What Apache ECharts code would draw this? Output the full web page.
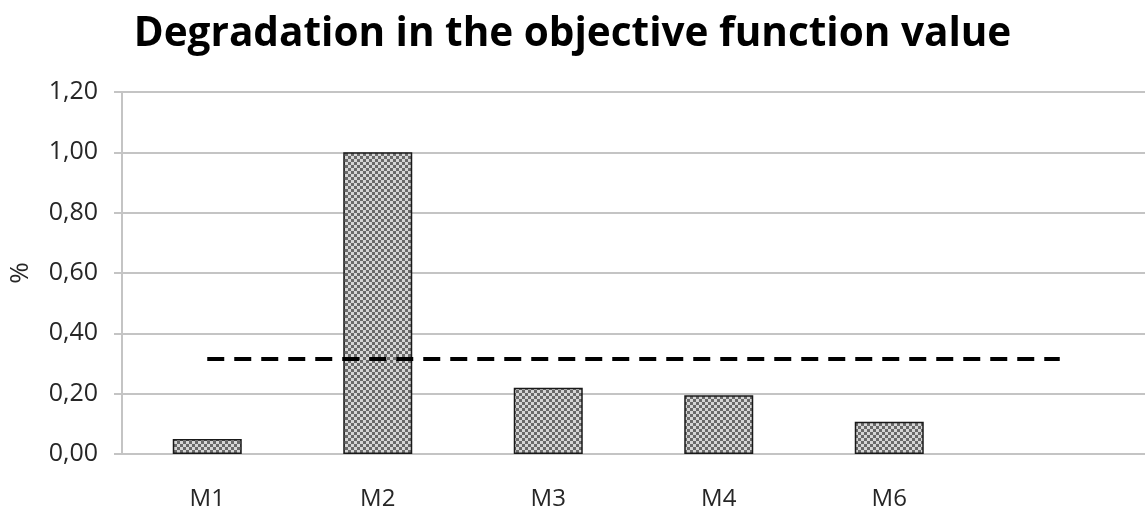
<!DOCTYPE html>
<html>
<head>
<meta charset="utf-8">
<script src="https://cdn.jsdelivr.net/npm/echarts@6/dist/echarts.min.js"></script>
<style>
  html, body { margin: 0; padding: 0; background: #fff; }
  #chart { width: 1145px; height: 513px; }
</style>
</head>
<body>
<div id="chart"></div>
<script>
// Categories (the last slot is left unlabeled so the reference line runs past M6)
const categories = ['M1', 'M2', 'M3', 'M4', 'M6', ''];
// Degradation per method, in %
const degradation = [0.05, 1.00, 0.22, 0.195, 0.107, null];
// Average degradation reference line, in %
const averageLine = [0.315, 0.315, 0.315, 0.315, 0.315, 0.315];
// Y axis ticks
const yTicks = { min: 0, max: 1.2, interval: 0.2 };

// Checkered fill for the bars
function checkerPattern() {
  const c = document.createElement('canvas');
  c.width = 6; c.height = 6;
  const ctx = c.getContext('2d');
  ctx.fillStyle = '#d6d6d6';
  ctx.fillRect(0, 0, 6, 6);
  ctx.fillStyle = '#6a6a6a';
  ctx.fillRect(0, 0, 3, 3);
  ctx.fillRect(3, 3, 3, 3);
  return c;
}

const chart = echarts.init(document.getElementById('chart'), null, { renderer: 'canvas' });

const labelColor = '#262626';

const option = {
  backgroundColor: '#ffffff',
  animation: false,
  title: {
    text: 'Degradation in the objective function value',
    left: 'center',
    top: 9,
    textStyle: {
      fontFamily: 'Open Sans',
      fontWeight: 'bold',
      fontSize: 40.5,
      color: '#000000'
    }
  },
  grid: {
    left: 121,
    top: 92,
    width: 1032,
    height: 362,
    containLabel: false
  },
  xAxis: {
    type: 'category',
    data: categories,
    axisLine: { show: true, lineStyle: { color: '#c4c4c4', width: 2 } },
    axisTick: { show: false },
    axisLabel: {
      margin: 33,
      fontFamily: 'Open Sans',
      fontSize: 24,
      color: labelColor
    }
  },
  yAxis: {
    type: 'value',
    min: yTicks.min,
    max: yTicks.max,
    interval: yTicks.interval,
    name: '%',
    nameLocation: 'middle',
    nameGap: 88,
    nameRotate: 90,
    nameTextStyle: {
      fontFamily: 'Open Sans',
      fontSize: 26,
      color: labelColor
    },
    axisLine: { show: true, lineStyle: { color: '#c4c4c4', width: 2 } },
    axisTick: { show: true, inside: false, length: 8, lineStyle: { color: '#c4c4c4', width: 2 } },
    axisLabel: {
      margin: 24,
      fontFamily: 'Open Sans',
      fontSize: 25,
      color: labelColor,
      formatter: v => v.toFixed(2).replace('.', ',')
    },
    splitLine: { show: true, lineStyle: { color: '#c4c4c4', width: 2 } }
  },
  series: [
    {
      name: 'Degradation',
      type: 'bar',
      data: degradation,
      barWidth: 69,
      itemStyle: {
        color: { image: checkerPattern(), repeat: 'repeat' },
        borderColor: '#1a1a1a',
        borderWidth: 1.5
      }
    },
    {
      name: 'Average',
      type: 'line',
      data: averageLine,
      symbol: 'none',
      lineStyle: { color: '#000000', width: 4, type: [17, 10] },
      z: 5
    }
  ]
};

chart.setOption(option);
</script>
</body>
</html>
